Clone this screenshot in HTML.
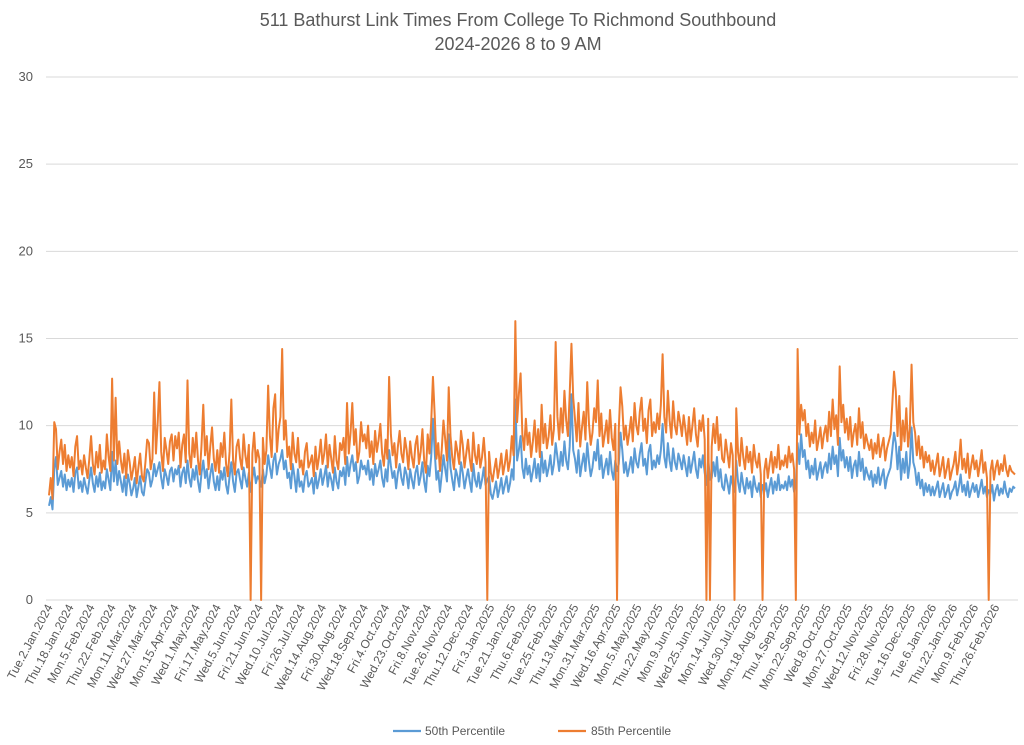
<!DOCTYPE html>
<html><head><meta charset="utf-8"><style>
html,body{margin:0;padding:0;background:#fff;}
svg{display:block;font-family:"Liberation Sans",Arial,sans-serif;}
</style></head><body>
<svg id="chart" width="1024" height="745" viewBox="0 0 1024 745" xmlns="http://www.w3.org/2000/svg">
<g fill="#595959" font-size="18" text-anchor="middle">
<text x="518" y="26">511 Bathurst Link Times From College To Richmond Southbound</text>
<text x="518" y="50">2024-2026 8 to 9 AM</text>
</g>
<g id="grid"></g>
<g id="yticks"></g>
<g id="xticks"></g>
<g id="series"></g>
<g font-size="12" fill="#595959">
<g><line x1="393" y1="731" x2="421" y2="731" stroke="#5b9bd5" stroke-width="2.2"/><text x="425" y="735">50th Percentile</text></g>
<g><line x1="558" y1="731" x2="586" y2="731" stroke="#ed7d31" stroke-width="2.2"/><text x="591" y="735">85th Percentile</text></g>
</g>
</svg>
<script>
const yTicks=[0,5,10,15,20,25,30];
const xLabels=["Tue.2.Jan.2024","Thu.18.Jan.2024","Mon.5.Feb.2024","Thu.22.Feb.2024","Mon.11.Mar.2024","Wed.27.Mar.2024","Mon.15.Apr.2024","Wed.1.May.2024","Fri.17.May.2024","Wed.5.Jun.2024","Fri.21.Jun.2024","Wed.10.Jul.2024","Fri.26.Jul.2024","Wed.14.Aug.2024","Fri.30.Aug.2024","Wed.18.Sep.2024","Fri.4.Oct.2024","Wed.23.Oct.2024","Fri.8.Nov.2024","Tue.26.Nov.2024","Thu.12.Dec.2024","Fri.3.Jan.2025","Tue.21.Jan.2025","Thu.6.Feb.2025","Tue.25.Feb.2025","Thu.13.Mar.2025","Mon.31.Mar.2025","Wed.16.Apr.2025","Mon.5.May.2025","Thu.22.May.2025","Mon.9.Jun.2025","Wed.25.Jun.2025","Mon.14.Jul.2025","Wed.30.Jul.2025","Mon.18.Aug.2025","Thu.4.Sep.2025","Mon.22.Sep.2025","Wed.8.Oct.2025","Mon.27.Oct.2025","Wed.12.Nov.2025","Fri.28.Nov.2025","Tue.16.Dec.2025","Tue.6.Jan.2026","Thu.22.Jan.2026","Mon.9.Feb.2026","Thu.26.Feb.2026"];
const p85=[6.0,7.0,5.8,10.2,9.8,7.5,8.5,9.2,7.8,8.9,7.4,8.3,
7.6,8.2,7.1,8.8,9.4,7.5,8.0,7.2,8.3,7.6,7.0,8.1,
9.4,7.8,7.2,8.5,7.6,8.9,7.3,8.0,7.5,9.5,8.2,7.4,
12.7,8.0,11.6,7.8,9.1,8.0,7.3,8.4,7.0,8.6,7.9,6.9,
7.5,8.2,6.7,7.6,8.4,7.1,6.8,7.9,9.2,9.0,7.5,8.1,
11.9,8.4,10.2,12.5,8.5,7.4,9.3,8.6,7.8,9.1,9.5,8.0,
9.4,8.7,9.6,7.6,8.9,9.5,7.9,12.6,8.4,7.6,9.3,8.2,
9.6,8.0,7.2,8.9,11.2,8.3,9.4,7.5,8.8,9.9,8.1,7.4,
8.6,7.3,9.0,8.2,9.6,7.8,7.1,8.5,11.5,8.0,7.2,8.8,
9.2,8.1,7.5,9.5,8.3,7.6,8.9,0,8.4,9.6,7.9,8.6,
8.1,0,9.3,7.8,8.6,12.3,9.4,8.2,11.0,11.8,8.5,9.8,
10.5,14.4,9.2,10.3,8.2,8.8,7.5,9.6,8.4,7.9,9.3,7.6,
8.0,7.2,8.5,9.0,7.6,7.9,8.3,7.1,8.8,7.5,8.2,9.2,
7.8,8.4,9.5,7.6,8.9,8.1,7.3,9.4,8.0,7.5,9.0,8.6,
9.3,7.8,11.3,8.4,9.6,11.3,8.9,9.8,7.9,8.5,10.2,9.1,
9.5,8.7,10.0,8.2,9.1,7.8,9.7,8.5,9.2,10.1,8.4,7.7,
9.2,8.1,12.8,9.5,8.3,9.0,7.6,8.8,9.7,8.4,7.9,9.3,
8.6,7.5,9.1,8.2,7.6,8.9,9.4,7.8,8.5,9.8,8.0,7.3,
9.5,8.4,10.2,12.8,10.6,8.1,9.0,7.4,8.6,10.3,9.2,8.0,
12.2,9.4,8.2,7.5,9.1,8.5,7.8,9.7,8.9,7.6,8.4,9.2,
8.1,7.4,9.6,8.3,7.8,8.9,7.6,8.2,9.3,7.9,0,8.5,
7.3,6.8,7.5,8.1,7.0,7.6,8.4,7.2,7.8,8.6,7.4,8.0,
9.4,8.3,16.0,10.2,11.8,13.0,9.5,8.6,10.4,8.9,9.6,8.2,
9.1,10.3,8.5,9.8,8.2,11.2,9.0,10.1,8.7,9.4,10.6,8.9,
9.8,14.8,10.5,9.2,11.0,9.6,12.0,10.3,9.4,11.8,14.7,11.6,
10.4,9.1,11.3,8.8,9.9,10.8,9.2,12.5,10.1,8.9,9.6,11.0,
10.2,12.6,9.4,10.7,8.8,9.5,10.3,9.0,10.9,9.3,8.6,10.1,
0,9.8,12.2,11.1,9.2,10.0,8.9,9.6,10.5,9.1,11.3,10.0,
9.5,10.8,11.6,9.7,10.4,9.0,10.9,11.5,9.4,10.2,9.6,10.7,
9.8,11.2,14.1,10.5,9.6,12.0,10.3,9.3,11.4,10.0,9.5,10.8,
10.2,9.4,10.6,9.8,8.9,10.5,9.1,10.0,11.0,9.5,8.8,10.3,
9.7,10.6,9.2,0,10.4,0,8.8,10.1,9.0,10.5,8.6,9.5,
8.1,7.9,9.2,8.4,7.6,9.0,8.3,0,11.0,8.5,7.7,9.3,
8.2,7.5,8.8,7.9,8.5,7.3,8.9,8.0,7.6,8.4,7.2,0,
7.4,8.1,7.0,7.8,8.5,7.3,8.2,7.6,8.9,7.5,8.0,7.7,
8.3,7.6,8.8,7.9,8.4,7.5,0,14.4,9.5,11.2,10.3,10.9,
9.4,10.1,8.8,9.6,9.0,10.3,8.6,9.2,9.9,8.7,9.5,10.0,
9.1,10.8,9.4,11.5,9.8,10.6,8.9,13.4,10.2,11.2,9.6,10.4,
9.2,10.5,8.8,9.6,10.1,8.9,11.0,9.3,10.2,8.7,9.5,9.0,
8.6,9.2,8.1,9.0,8.4,9.5,8.2,8.8,9.3,8.0,8.7,9.1,
9.5,11.2,13.1,12.0,9.4,11.7,8.6,10.3,9.1,11.0,8.8,9.8,
13.5,10.2,9.6,8.3,9.4,8.1,8.8,7.6,8.5,7.9,8.3,7.4,
8.0,7.2,7.8,8.4,7.1,7.6,8.2,7.0,7.5,8.1,6.9,7.4,
7.8,8.5,7.2,7.9,9.2,7.5,8.1,7.3,8.4,7.0,7.7,8.3,
7.5,8.0,7.1,7.8,8.6,7.3,7.9,7.0,0,7.4,8.0,6.9,
7.6,8.0,7.2,7.8,7.4,8.3,7.5,7.1,7.7,7.4,7.3,7.2];
const p50=[5.4,5.9,5.2,7.5,8.2,6.6,7.0,7.4,6.5,7.2,6.3,6.9,
6.5,7.0,6.2,7.3,7.6,6.4,6.8,6.2,7.0,6.5,6.1,6.9,
7.6,6.7,6.2,7.1,6.5,7.3,6.3,6.8,6.4,7.5,6.9,6.3,
8.5,6.8,8.0,6.6,7.4,6.8,6.2,7.1,6.0,7.2,6.7,6.0,
6.4,7.0,5.9,6.5,7.1,6.2,6.0,6.8,7.5,7.3,6.5,6.9,
7.8,7.1,7.5,7.9,7.0,6.4,7.5,7.1,6.6,7.4,7.6,6.8,
7.5,7.2,7.7,6.5,7.3,7.6,6.7,8.0,7.0,6.5,7.5,6.9,
7.7,6.8,6.2,7.3,8.0,7.0,7.5,6.4,7.2,7.8,6.8,6.3,
7.1,6.3,7.4,6.9,7.6,6.6,6.1,7.1,7.9,6.8,6.2,7.3,
7.5,6.9,6.4,7.6,7.0,6.5,7.3,6.2,7.0,7.6,6.7,7.1,
6.9,6.5,7.5,6.7,7.2,8.3,7.6,7.0,8.0,8.4,7.2,7.8,
8.1,8.6,7.5,8.0,7.0,7.3,6.4,7.8,7.1,6.2,7.5,6.5,
6.8,6.2,7.1,7.4,6.5,6.7,7.0,6.1,7.3,6.4,6.9,7.5,
6.6,7.1,7.7,6.5,7.3,6.9,6.3,7.6,6.8,6.4,7.4,7.1,
7.6,6.6,8.2,7.1,7.8,8.3,7.4,7.9,6.7,7.1,8.0,7.5,
7.7,7.2,8.0,6.9,7.5,6.6,7.8,7.1,7.5,8.0,7.0,6.5,
7.5,6.8,8.6,7.7,7.0,7.4,6.4,7.3,7.8,7.0,6.6,7.6,
7.2,6.4,7.5,6.9,6.4,7.3,7.7,6.6,7.1,7.9,6.8,6.2,
7.7,7.1,8.2,10.4,8.5,6.9,7.4,6.2,7.2,8.3,7.5,6.8,
9.5,7.6,6.9,6.3,7.5,7.1,6.5,7.9,7.3,6.4,7.0,7.5,
6.8,6.2,7.8,6.9,6.5,7.3,6.4,6.9,7.6,6.6,6.9,7.1,
6.1,5.8,6.3,6.8,5.9,6.4,7.0,6.1,6.6,7.1,6.2,6.7,
7.5,6.9,11.5,8.0,8.6,9.4,7.6,7.0,8.1,7.2,7.7,6.8,
7.4,8.1,7.0,7.8,6.8,8.5,7.3,8.0,7.1,7.6,8.3,7.2,
7.8,9.0,8.2,7.4,8.5,7.7,9.1,8.0,7.5,8.8,11.8,8.6,
8.1,7.3,8.6,7.1,7.8,8.4,7.4,9.0,7.9,7.1,7.6,8.5,
8.0,9.2,7.5,8.3,7.0,7.6,8.1,7.2,8.5,7.4,6.9,8.0,
7.4,7.8,9.6,8.6,7.3,7.9,7.1,7.6,8.2,7.3,8.7,7.9,
7.6,8.4,9.0,7.7,8.1,7.2,8.5,8.9,7.5,8.0,7.6,8.3,
7.8,8.6,10.1,8.2,7.6,9.0,8.0,7.4,8.7,7.9,7.5,8.4,
8.0,7.5,8.3,7.7,7.1,8.2,7.3,7.9,8.5,7.5,7.0,8.1,
7.6,8.3,7.3,6.6,8.1,6.9,7.0,7.9,7.1,8.2,6.8,7.5,
6.5,6.3,7.2,6.7,6.1,7.1,6.6,6.2,8.0,6.8,6.2,7.3,
6.6,6.1,7.0,6.4,6.8,5.9,7.1,6.5,6.2,6.7,5.9,6.6,
6.2,6.7,5.9,6.5,7.0,6.1,6.8,6.3,7.2,6.3,6.6,6.4,
6.8,6.3,7.1,6.5,6.9,6.2,6.6,9.0,7.8,9.5,8.2,8.6,
7.5,8.0,7.0,7.7,7.2,8.1,6.9,7.4,7.9,7.0,7.6,7.9,
7.3,8.4,7.5,8.8,7.8,8.3,7.1,9.3,8.0,8.6,7.6,8.2,
7.4,8.2,7.0,7.7,8.0,7.1,8.5,7.4,8.1,6.9,7.6,7.2,
6.9,7.4,6.5,7.2,6.7,7.6,6.6,7.1,7.5,6.4,7.0,7.3,
7.6,8.6,9.6,9.0,7.5,8.8,6.9,8.1,7.3,8.5,7.0,7.8,
9.9,7.9,7.5,6.6,7.3,6.4,6.9,6.0,6.7,6.2,6.6,6.0,
6.5,6.0,6.4,6.8,5.9,6.3,6.7,5.9,6.2,6.6,5.8,6.2,
6.4,6.8,6.0,6.5,7.2,6.2,6.6,6.0,6.8,5.9,6.3,6.7,
6.2,6.6,5.9,6.4,6.9,6.1,6.5,5.9,6.3,6.1,6.6,5.7,
6.3,6.6,6.0,6.4,6.1,6.8,6.2,5.9,6.4,6.2,6.5,6.4];
const labelEvery=12;

const NS="http://www.w3.org/2000/svg";
const X0=46,X1=1018,Y0=600,Y1=77,YMAX=30;
const n=p85.length;
function xs(i){return X0+3+i*(X1-X0-6)/(n-1);}
function ys(v){return Y0-v/YMAX*(Y0-Y1);}
function mk(tag,attrs,parent){const e=document.createElementNS(NS,tag);for(const k in attrs)e.setAttribute(k,attrs[k]);parent.appendChild(e);return e;}
const grid=document.getElementById('grid'),yt=document.getElementById('yticks'),xt=document.getElementById('xticks'),ser=document.getElementById('series');
yTicks.forEach(v=>{
  const l=mk('line',{x1:X0,x2:X1,y1:ys(v),y2:ys(v),stroke:'#d9d9d9','stroke-width':1},grid);
  
  
  const t=mk('text',{x:33,y:ys(v)+4,'text-anchor':'end','font-size':13,fill:'#595959'},yt);
  t.textContent=v;
  
  
});
xLabels.forEach((s,k)=>{
  const x=xs(k*labelEvery)+4;
  const t=mk('text',{x:x,y:607,'text-anchor':'end','font-size':12,fill:'#595959',transform:`rotate(-62 ${x} 607)`},xt);
  t.textContent=s;
  
  
});
function line(arr,color,name){
  const d=arr.map((v,i)=>(i?'L':'M')+xs(i).toFixed(2)+' '+ys(v).toFixed(2)).join(' ');
  const p=mk('path',{d:d,fill:'none',stroke:color,'stroke-width':2,'stroke-linejoin':'round'},ser);
  
  
}
line(p50,'#5b9bd5','series-50th-percentile');
line(p85,'#ed7d31','series-85th-percentile');
</script>
</body></html>
